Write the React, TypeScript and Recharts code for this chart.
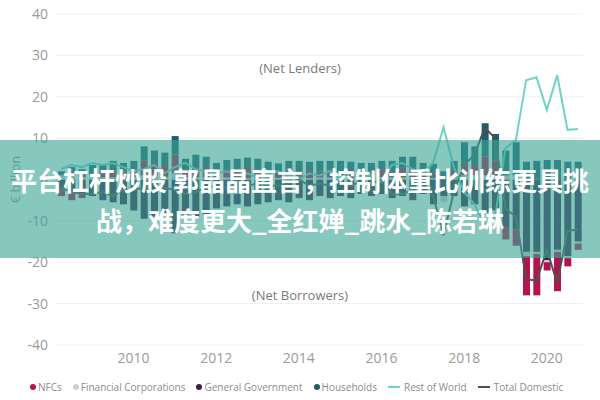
import React from 'react';
import { ComposedChart, Bar, Line, XAxis, YAxis, CartesianGrid } from 'recharts';

// quarterly, 2008 Q2 .. 2020 Q4
const quarters = [
  '2008 Q2', '2008 Q3', '2008 Q4',
  '2009 Q1', '2009 Q2', '2009 Q3', '2009 Q4',
  '2010 Q1', '2010 Q2', '2010 Q3', '2010 Q4',
  '2011 Q1', '2011 Q2', '2011 Q3', '2011 Q4',
  '2012 Q1', '2012 Q2', '2012 Q3', '2012 Q4',
  '2013 Q1', '2013 Q2', '2013 Q3', '2013 Q4',
  '2014 Q1', '2014 Q2', '2014 Q3', '2014 Q4',
  '2015 Q1', '2015 Q2', '2015 Q3', '2015 Q4',
  '2016 Q1', '2016 Q2', '2016 Q3', '2016 Q4',
  '2017 Q1', '2017 Q2', '2017 Q3', '2017 Q4',
  '2018 Q1', '2018 Q2', '2018 Q3', '2018 Q4',
  '2019 Q1', '2019 Q2', '2019 Q3', '2019 Q4',
  '2020 Q1', '2020 Q2', '2020 Q3', '2020 Q4',
];

const tickQuarters = ['2010 Q1', '2012 Q1', '2014 Q1', '2016 Q1', '2018 Q1', '2020 Q1'];
const tickLabels = ['2010', '2012', '2014', '2016', '2018', '2020'];
const yTicks = [-40, -30, -20, -10, 0, 10, 20, 30, 40];

const nfcs = [
  -1.5, -2.0, -1.0, 0.5, 1.0, 1.5, 1.5, 2.0, 3.5, 3.0, 3.0, 4.5, 2.0, 2.5, 2.5,
  1.5, 2.0, 2.0, 2.5, 2.0, 1.5, 1.5, 2.0, 1.5, 2.0, 1.5, 2.0, 1.5, 2.0, 1.0, 1.5,
  2.0, 1.5, 2.5, 2.0, 1.5, 1.5, 0.5, 2.0, 3.0, 2.5, 4.5, 3.5, -3.0, -4.0,
  -9.5, -10.0, -2.0, -9.5, -2.0, -1.5,
];
const financialCorps = [
  1.0, 1.5, 0.5, 1.0, 0.5, 0.5, 0.5, 0.5, 1.0, 1.0, 0.5, 1.5, 0.5, 0.5, 0.5,
  0.5, 0.5, 0.5, 0.3, 0.5, 0.5, 0.4, 0.5, 0.5, 0.3, 0.5, 0.5, 0.5, 0.3, 0.5, 0.5,
  0.5, 0.5, 0.5, 0.5, 0.5, 0.3, -1.5, 0.5, 1.0, 1.0, 1.0, 1.0, 1.0, 1.0,
  -1.0, -0.5, -0.5, -0.5, -0.5, -0.5,
];
const generalGov = [
  -2.5, -3.0, -3.5, -4.0, -5.0, -5.5, -6.0, -7.5, -9.5, -9.0, -8.5, -13.0, -8.5, -9.0, -8.5,
  -7.0, -6.5, -6.0, -6.5, -6.0, -5.5, -5.0, -5.5, -4.5, -5.0, -4.0, -4.5, -4.0, -4.5, -3.5, -4.0,
  -3.5, -4.5, -4.0, -5.0, -3.5, -6.0, -4.0, -4.0, -6.5, -6.0, -8.0, -7.5, -11.5, -12.0,
  -17.5, -17.5, -19.5, -17.0, -18.5, -15.0,
];
const households = [
  1.0, 1.5, 2.0, 2.0, 2.0, 2.5, 2.0, 2.0, 3.5, 3.0, 3.0, 4.5, 2.5, 3.0, 2.5,
  2.0, 2.2, 2.5, 2.5, 2.5, 2.3, 2.0, 2.0, 2.5, 2.0, 2.5, 2.0, 2.5, 2.0, 2.5, 2.0,
  2.0, 2.5, 2.5, 3.0, 2.0, 2.0, 1.5, 2.0, 5.0, 4.5, 8.1, 6.5, 6.0, 8.0,
  4.3, 4.5, 4.7, 4.7, 4.3, 4.3,
];
const restOfWorld = [
  2.5, 3.5, 3.0, 4.0, 3.5, 4.0, 3.0, 2.0, 2.5, 3.5, 1.5, 3.0, 4.0, 2.5, 2.0,
  1.5, 2.0, 1.0, 1.5, 0.5, 1.5, 2.0, 1.0, 0.0, 1.5, 1.0, 2.0, 0.5, 1.5, 0.5, 1.0,
  -0.5, 3.5, 4.0, 2.5, 1.5, 4.0, 12.6, 3.0, -3.0, -6.0, -11.0, -9.0, 7.6, 9.5,
  24.0, 24.7, 16.8, 25.2, 12.0, 12.2,
];
const totalDomestic = [
  -2.0, -3.0, -3.5, -3.5, -3.0, -4.0, -2.5, -2.5, -2.0, -3.0, -2.0, -2.5, -3.5, -3.0, -2.0,
  -1.5, -2.0, -1.0, -1.5, -1.0, -1.5, -1.5, -1.0, 0.0, -1.5, -1.0, -1.5, -0.5, -1.5, -0.5, -1.0,
  0.0, -3.5, -3.5, -2.5, -1.5, -4.0, -13.5, -3.0, 3.5, 6.0, 12.5, 10.0, -7.0, -9.0,
  -24.0, -24.5, -17.0, -25.0, -12.5, -12.0,
];

const COLORS = {
  nfc: '#b3134f',
  fin: '#cfcfcf',
  gov: '#3d1f4d',
  hh: '#1d5e6e',
  row: '#6fd3ca',
  td: '#505050',
};

const data = quarters.map((q, i) => ({
  q,
  nfc: nfcs[i],
  fin: financialCorps[i],
  gov: generalGov[i],
  hh: households[i],
  row: restOfWorld[i],
  td: totalDomestic[i],
}));

const fmtX = (v: string) => {
  const k = tickQuarters.indexOf(v);
  return k >= 0 ? tickLabels[k] : '';
};

const legendItems = [
  { name: 'NFCs', color: COLORS.nfc, type: 'dot' },
  { name: 'Financial Corporations', color: COLORS.fin, type: 'dot' },
  { name: 'General Government', color: COLORS.gov, type: 'dot' },
  { name: 'Households', color: COLORS.hh, type: 'dot' },
  { name: 'Rest of World', color: COLORS.row, type: 'line' },
  { name: 'Total Domestic', color: COLORS.td, type: 'line' },
];

const tickStyle = { fill: '#9a9a9a', fontSize: 14, fontFamily: 'Open Sans, sans-serif' };

export default function App() {
  return (
    <div style={{ position: 'absolute', left: 0, top: 0, width: 600, height: 400, background: '#fff', overflow: 'hidden' }}>
      <ComposedChart
        width={600}
        height={400}
        data={data}
        stackOffset="sign"
        barSize={7}
        margin={{ top: 14, right: 17, left: 0, bottom: 25 }}
      >
        <CartesianGrid vertical={false} stroke="#eeeeee" />
        <XAxis
          dataKey="q"
          interval={0}
          tickFormatter={fmtX}
          axisLine={false}
          tickLine={false}
          height={30}
          tick={tickStyle}
        />
        <YAxis
          domain={[-40, 40]}
          ticks={yTicks}
          width={56}
          axisLine={false}
          tickLine={false}
          tick={tickStyle}
          label={{
            value: '€ billion',
            angle: -90,
            position: 'insideLeft',
            offset: 15,
            style: { fill: '#9a9a9a', fontSize: 13, fontFamily: 'Open Sans, sans-serif', textAnchor: 'middle' },
          }}
        />
        <Bar dataKey="gov" name="General Government" stackId="s" fill={COLORS.gov} isAnimationActive={false} />
        <Bar dataKey="fin" name="Financial Corporations" stackId="s" fill={COLORS.fin} isAnimationActive={false} />
        <Bar dataKey="nfc" name="NFCs" stackId="s" fill={COLORS.nfc} isAnimationActive={false} />
        <Bar dataKey="hh" name="Households" stackId="s" fill={COLORS.hh} isAnimationActive={false} />
        <Line dataKey="row" name="Rest of World" type="linear" stroke={COLORS.row} strokeWidth={2} dot={false} isAnimationActive={false} />
        <Line dataKey="td" name="Total Domestic" type="linear" stroke={COLORS.td} strokeWidth={2} dot={false} isAnimationActive={false} />
      </ComposedChart>

      <div style={{ position: 'absolute', left: 0, width: 600, top: 59, textAlign: 'center', color: '#7a7a7a', fontSize: 13, fontFamily: 'Open Sans, sans-serif' }}>
        (Net Lenders)
      </div>
      <div style={{ position: 'absolute', left: 0, width: 600, top: 286, textAlign: 'center', color: '#7a7a7a', fontSize: 13, fontFamily: 'Open Sans, sans-serif' }}>
        (Net Borrowers)
      </div>

      <div
        style={{
          position: 'absolute', left: 30, top: 380, display: 'flex', alignItems: 'center', gap: 11,
          fontSize: 10, fontFamily: 'Open Sans, sans-serif', color: '#8c8c8c', whiteSpace: 'nowrap',
        }}
      >
        {legendItems.map((it) => (
          <span key={it.name} style={{ display: 'flex', alignItems: 'center', gap: 2 }}>
            {it.type === 'dot' ? (
              <span style={{ width: 6, height: 6, borderRadius: 3, background: it.color, display: 'inline-block' }} />
            ) : (
              <span style={{ width: 12, height: 2, background: it.color, display: 'inline-block', marginRight: 2 }} />
            )}
            {it.name}
          </span>
        ))}
      </div>

      <div
        style={{
          position: 'absolute', left: 0, top: 140, width: 600, height: 118,
          background: 'rgba(60, 165, 150, 0.62)', color: '#ffffff', textAlign: 'center',
          fontFamily: '"Noto Sans CJK SC", sans-serif', fontWeight: 700, fontSize: 26, lineHeight: '40px',
          paddingTop: 20, boxSizing: 'border-box',
        }}
      >
        <div style={{ whiteSpace: 'nowrap' }}>平台杠杆炒股 郭晶晶直言，控制体重比训练更具挑</div>
        <div style={{ whiteSpace: 'nowrap' }}>战，难度更大_全红婵_跳水_陈若琳</div>
      </div>
    </div>
  );
}
